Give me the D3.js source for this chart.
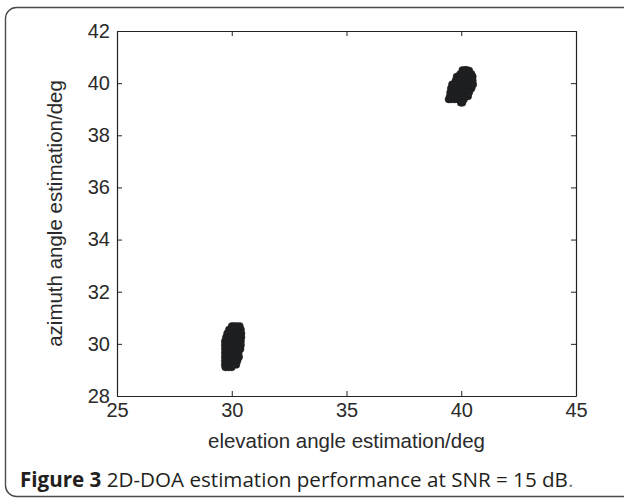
<!DOCTYPE html>
<html>
<head>
<meta charset="utf-8">
<script src="https://d3js.org/d3.v7.min.js"></script>
<style>
  body { margin: 0; padding: 0; background: #fff; }
  svg { display: block; }
  .tick text { font-family: "Liberation Sans", Arial, sans-serif; font-size: 20px; fill: #2a2a2a; }
  .lbl { font-family: "Liberation Sans", Arial, sans-serif; font-size: 20.5px; fill: #2a2a2a; }
  .cap { font-family: "Open Sans", "Noto Sans", sans-serif; font-size: 20.6px; fill: #231f20; }
</style>
</head>
<body>
<script>
// axis ranges and ticks
var xDomain = [25, 45];
var yDomain = [28, 42];
var xTicks = [25, 30, 35, 40, 45];
var yTicks = [28, 30, 32, 34, 36, 38, 40, 42];

// estimated DOA points, target near (40, 40)
var upperX = [40.05, 40.15, 40.25, 40.35,
  39.95, 40.1, 40.2, 40.3, 40.45,
  39.8, 39.9, 40.0, 40.15, 40.3, 40.5,
  39.75, 39.85, 39.95, 40.05, 40.2, 40.35, 40.5,
  39.6, 39.7, 39.85, 40.0, 40.1, 40.25, 40.4, 40.52,
  39.55, 39.65, 39.8, 39.95, 40.1, 40.2, 40.35, 40.45,
  39.52, 39.62, 39.75, 39.9, 40.05, 40.2, 40.35,
  39.5, 39.6, 39.75, 39.9, 40.05, 40.2, 40.3,
  39.45, 39.55, 39.7, 39.85, 40.0, 40.12,
  39.98, 40.05, 40.2, 40.3];
var upperY = [40.5, 40.5, 40.5, 40.48,
  40.35, 40.38, 40.38, 40.38, 40.35,
  40.25, 40.25, 40.25, 40.25, 40.25, 40.25,
  40.1, 40.1, 40.1, 40.1, 40.1, 40.1, 40.1,
  39.95, 39.95, 39.95, 39.95, 39.95, 39.95, 39.95, 39.95,
  39.8, 39.8, 39.8, 39.8, 39.8, 39.8, 39.8, 39.8,
  39.65, 39.65, 39.65, 39.65, 39.65, 39.65, 39.65,
  39.5, 39.5, 39.5, 39.5, 39.5, 39.5, 39.5,
  39.38, 39.38, 39.38, 39.38, 39.38, 39.38,
  39.25, 39.25, 40.5, 40.42];

// estimated DOA points, target near (30, 30)
var lowerX = [30.0, 30.1, 30.22, 30.35,
  29.88, 30.0, 30.12, 30.25, 30.4,
  29.8, 29.92, 30.05, 30.2, 30.35, 30.42,
  29.75, 29.88, 30.0, 30.15, 30.3, 30.42,
  29.7, 29.82, 29.95, 30.1, 30.25, 30.4,
  29.7, 29.82, 29.95, 30.1, 30.25, 30.4,
  29.7, 29.82, 29.95, 30.1, 30.25, 30.38,
  29.7, 29.82, 29.95, 30.1, 30.25, 30.3,
  29.7, 29.82, 29.95, 30.1, 30.22, 30.32,
  29.7, 29.82, 29.95, 30.1, 30.25,
  29.7, 29.8, 29.92, 30.05, 30.2,
  29.72, 29.85, 30.0];
var lowerY = [30.68, 30.68, 30.68, 30.68,
  30.55, 30.55, 30.55, 30.55, 30.55,
  30.4, 30.4, 30.4, 30.4, 30.4, 30.4,
  30.25, 30.25, 30.25, 30.25, 30.25, 30.25,
  30.1, 30.1, 30.1, 30.1, 30.1, 30.1,
  29.95, 29.95, 29.95, 29.95, 29.95, 29.95,
  29.8, 29.8, 29.8, 29.8, 29.8, 29.8,
  29.65, 29.65, 29.65, 29.65, 29.65, 29.65,
  29.5, 29.5, 29.5, 29.5, 29.5, 29.5,
  29.35, 29.35, 29.35, 29.35, 29.35,
  29.2, 29.2, 29.2, 29.2, 29.2,
  29.1, 29.1, 29.1];

var w = 624, h = 499;
var mLeft = 117, mRight = 576, mTop = 31, mBottom = 396;

var svg = d3.select("body").append("svg")
  .attr("width", w)
  .attr("height", h);

// outer figure frame
svg.append("rect")
  .attr("x", 5.5).attr("y", 7.5)
  .attr("width", 630).attr("height", 489)
  .attr("rx", 11).attr("ry", 11)
  .attr("fill", "none")
  .attr("stroke", "#4a4a4a")
  .attr("stroke-width", 1.4);

var x = d3.scaleLinear().domain(xDomain).range([mLeft, mRight]);
var y = d3.scaleLinear().domain(yDomain).range([mBottom, mTop]);

// MATLAB style box, ticks pointing inward
var xAxis = d3.axisBottom(x).tickValues(xTicks).tickSizeInner(-5).tickSizeOuter(0).tickPadding(7).tickFormat(d3.format("d"));
var yAxis = d3.axisLeft(y).tickValues(yTicks).tickSizeInner(-5).tickSizeOuter(0).tickPadding(7).tickFormat(d3.format("d"));
var xTop = d3.axisTop(x).tickValues(xTicks).tickSizeInner(-5).tickSizeOuter(0).tickFormat("");
var yRight = d3.axisRight(y).tickValues(yTicks).tickSizeInner(-5).tickSizeOuter(0).tickFormat("");

function style(g) {
  g.selectAll("path").attr("stroke", "#222").attr("stroke-width", 1.2);
  g.selectAll("line").attr("stroke", "#222");
}

svg.append("g").attr("transform", "translate(0," + mBottom + ")").call(xAxis).call(style);
svg.append("g").attr("transform", "translate(" + mLeft + ",0)").call(yAxis).call(style);
svg.append("g").attr("transform", "translate(0," + mTop + ")").call(xTop).call(style);
svg.append("g").attr("transform", "translate(" + mRight + ",0)").call(yRight).call(style);

// points
var pts = [];
upperX.forEach(function(v, i) { pts.push([v, upperY[i]]); });
lowerX.forEach(function(v, i) { pts.push([v, lowerY[i]]); });

svg.append("g").selectAll("circle")
  .data(pts)
  .enter().append("circle")
  .attr("cx", function(d) { return x(d[0]); })
  .attr("cy", function(d) { return y(d[1]); })
  .attr("r", 3.6)
  .attr("fill", "#1e1f21")
  .attr("stroke", "#1e1f21")
  .attr("stroke-width", 0.5);

// axis titles
svg.append("text").attr("class", "lbl")
  .attr("x", (mLeft + mRight) / 2).attr("y", 448)
  .attr("text-anchor", "middle")
  .text("elevation angle estimation/deg");

svg.append("text").attr("class", "lbl")
  .attr("transform", "translate(62," + ((mTop + mBottom) / 2) + ") rotate(-90)")
  .attr("text-anchor", "middle")
  .text("azimuth angle estimation/deg");

// caption
var cap = svg.append("text").attr("class", "cap")
  .attr("x", 20).attr("y", 487);
cap.append("tspan").attr("font-weight", "bold").text("Figure 3");
cap.append("tspan").text(" 2D-DOA estimation performance at SNR = 15 dB");
cap.append("tspan").attr("fill", "#777").text(".");
</script>
</body>
</html>
